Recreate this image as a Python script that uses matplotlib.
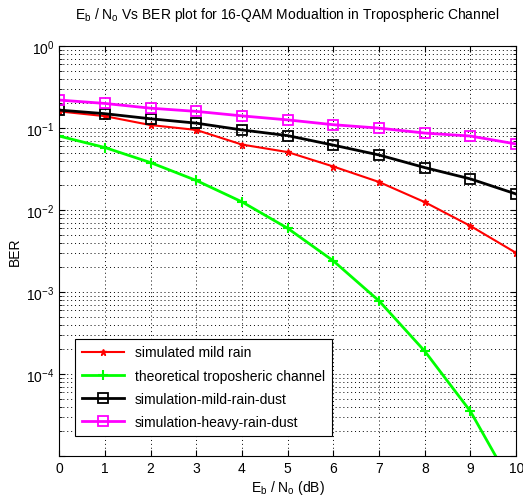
import numpy as np
import matplotlib
matplotlib.use("Agg")
import matplotlib.pyplot as plt
from matplotlib.ticker import LogLocator, NullFormatter, FuncFormatter

plt.rcParams['font.family'] = ['Liberation Sans', 'DejaVu Sans']
plt.rcParams['mathtext.fontset'] = 'custom'
plt.rcParams['mathtext.rm'] = 'Liberation Sans'
plt.rcParams['mathtext.it'] = 'Liberation Sans'

# Eb/No values (dB)
ebno = [0, 1, 2, 3, 4, 5, 6, 7, 8, 9, 10]

# BER curves
mild_rain = [0.160, 0.140, 0.109, 0.095, 0.063, 0.051, 0.034, 0.022, 0.0125, 0.0064, 0.0030]
theoretical = [0.080, 0.058, 0.038, 0.023, 0.0126, 0.0060, 0.0024, 0.00078, 0.00019, 0.000035, 0.0000036]
mild_rain_dust = [0.166, 0.150, 0.130, 0.115, 0.095, 0.081, 0.062, 0.047, 0.033, 0.024, 0.0157]
heavy_rain_dust = [0.220, 0.200, 0.175, 0.160, 0.141, 0.126, 0.110, 0.100, 0.087, 0.080, 0.064]

fig = plt.figure(figsize=(5.23, 5.02), dpi=100)
ax = fig.add_axes([0.113, 0.0896, 0.874, 0.8165])

ax.semilogy(ebno, mild_rain, color='#ff0000', marker='*', markersize=5, lw=1.5,
            label='simulated mild rain')
ax.semilogy(ebno, theoretical, color='#00ff00', marker='+', markersize=7, mew=1.5, lw=2,
            label='theoretical troposheric channel')
ax.semilogy(ebno, mild_rain_dust, color='black', marker='s', markersize=6.5, mfc='none',
            mew=1.3, lw=2, label='simulation-mild-rain-dust')
ax.semilogy(ebno, heavy_rain_dust, color='#ff00ff', marker='s', markersize=6.5, mfc='none',
            mew=1.3, lw=2, label='simulation-heavy-rain-dust')

ax.set_xlim(0, 10)
ax.set_ylim(1e-5, 1)
ax.set_xticks(range(0, 11))
ax.yaxis.set_major_locator(LogLocator(base=10, numticks=10))
ax.yaxis.set_major_formatter(FuncFormatter(
    lambda v, p: '' if v < 5e-5 else '$10^{%d}$' % round(np.log10(v))))
ax.yaxis.set_minor_locator(LogLocator(base=10, subs=np.arange(2, 10), numticks=20))
ax.yaxis.set_minor_formatter(NullFormatter())

ax.grid(True, which='major', linestyle=(0, (1, 3)), color='black', lw=0.7)
ax.grid(True, which='minor', axis='y', linestyle=(0, (1, 3)), color='black', lw=0.7)
ax.tick_params(which='both', direction='in', top=True, right=True, labelsize=10)
ax.tick_params(which='major', length=4)
ax.tick_params(which='minor', length=2)

ax.set_title('E$_b$ / N$_o$ Vs BER plot for 16-QAM Modualtion in Tropospheric Channel',
             fontsize=10, pad=20)
ax.set_xlabel('E$_b$ / N$_o$ (dB)', fontsize=10, labelpad=2)
ax.set_ylabel('BER', fontsize=10, labelpad=3)

leg = ax.legend(loc='lower left', bbox_to_anchor=(0.035, 0.05), fontsize=10,
                fancybox=False, edgecolor='black', framealpha=1,
                handlelength=3, borderpad=0.5, labelspacing=0.65, borderaxespad=0)
leg.get_frame().set_linewidth(0.8)

fig.savefig('out.png', dpi=100)
